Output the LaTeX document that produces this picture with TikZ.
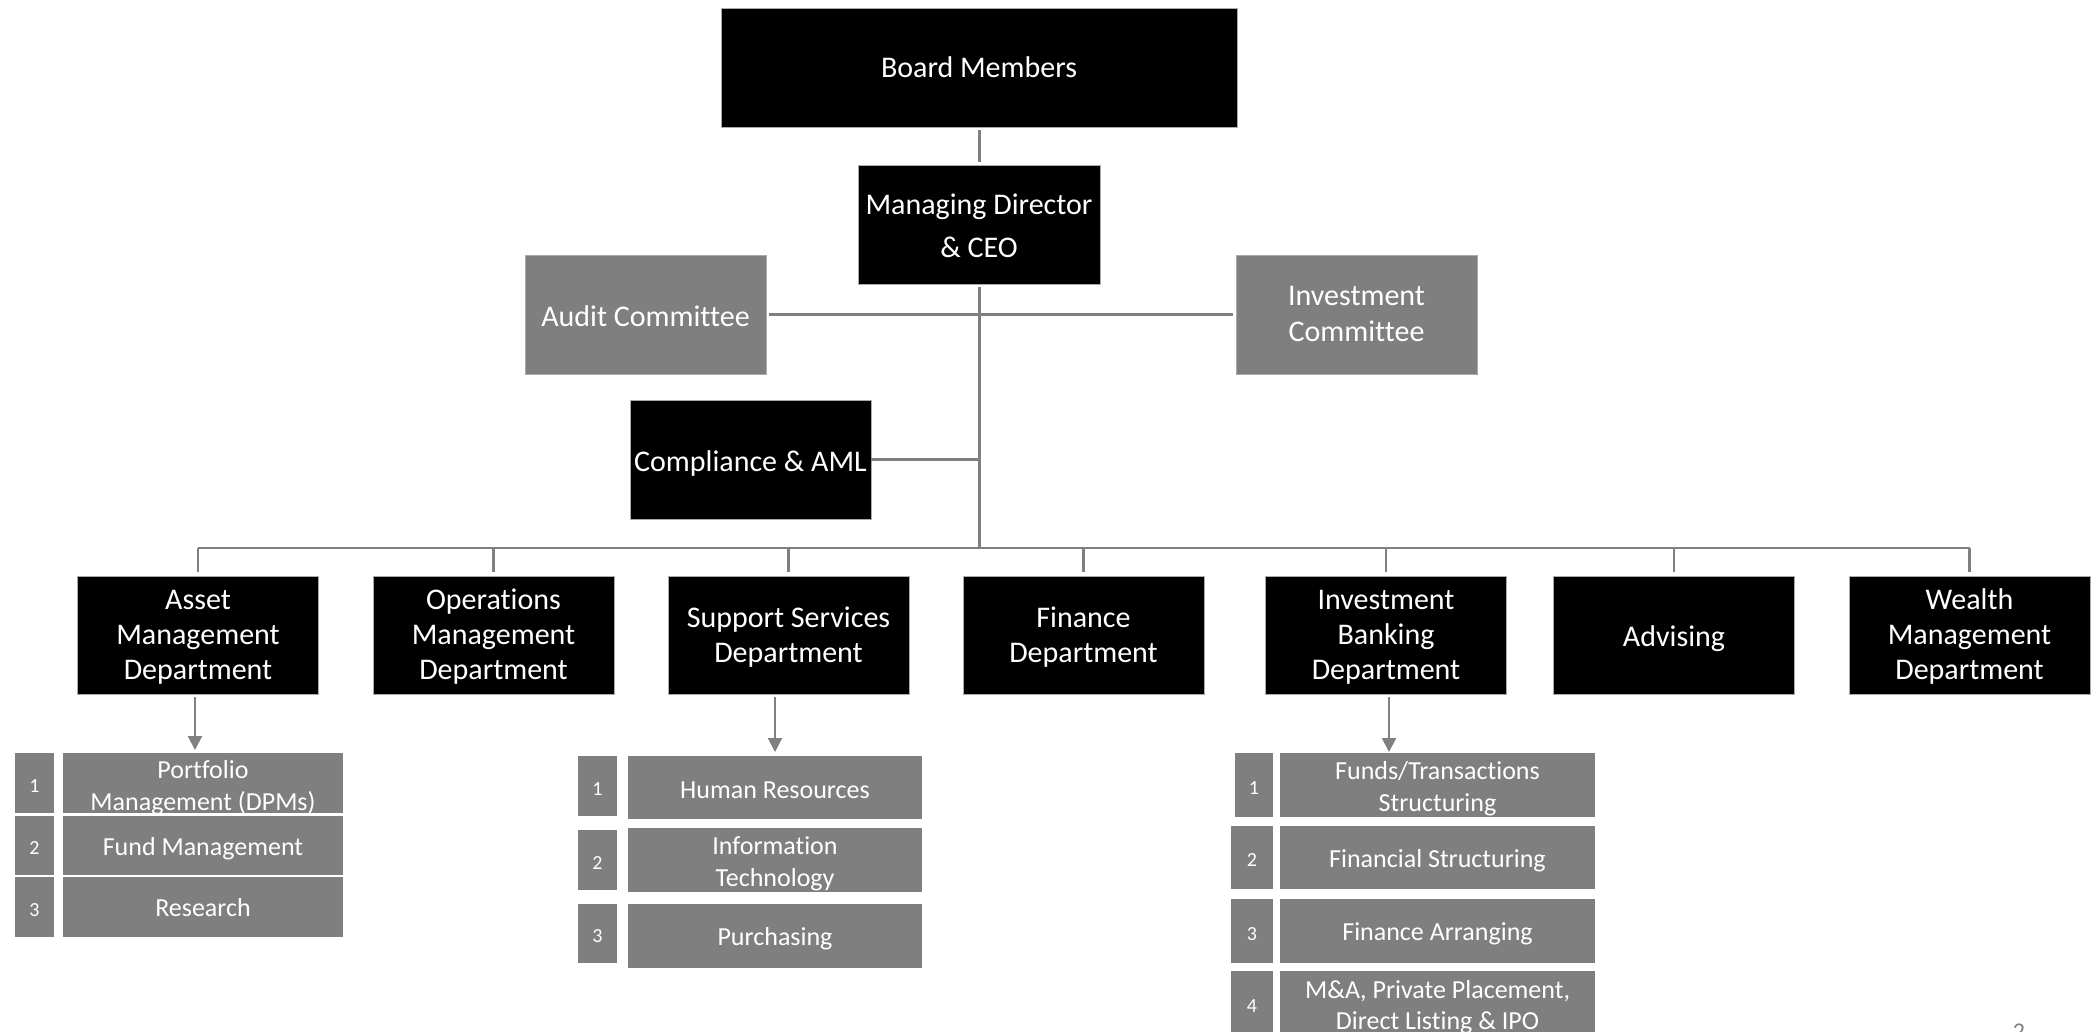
\documentclass[tikz,border=0pt]{standalone}
\usepackage{fontspec}
\setmainfont{Carlito}[Ligatures=NoCommon]
\usetikzlibrary{arrows.meta}
\definecolor{gfill}{RGB}{127,127,127}
\definecolor{gline}{RGB}{128,128,128}
\definecolor{gedge}{RGB}{170,170,170}
% strut centred on the cap height; #1 = extra height on top, #2 = extra depth below
\newcommand\sS[2]{\rule[\dimexpr-0.21em-#2\relax]{0pt}{\dimexpr1.05em+#1+#2\relax}}
\newcommand\fst{\sS{0pt}{0pt}}
\tikzset{
  box/.style={inner sep=0pt, outer sep=0pt, text=white, align=center, draw=gedge, line width=0.8pt},
  blk/.style={box, fill=black, font=\fontsize{30}{36}\selectfont},
  gry/.style={box, fill=gfill, font=\fontsize{30}{36}\selectfont},
  dept/.style={blk, minimum width=241, minimum height=118, font=\fontsize{30}{35}\selectfont},
  sublab/.style={inner sep=0pt, outer sep=0pt, fill=gfill, text=white, align=center, anchor=north west, font=\fontsize{26}{31}\selectfont},
  subtxt/.style={inner sep=0pt, outer sep=0pt, text=white, align=center, font=\fontsize{26}{32}\selectfont},
  subnum/.style={inner sep=0pt, outer sep=0pt, fill=gfill, text=white, anchor=north west, font=\fontsize{20}{24}\selectfont},
  conn/.style={draw=gline, line width=3pt},
  arr/.style={draw=gline, line width=2pt, -{Triangle[length=14pt,width=14pt]}},
}
\begin{document}
\begin{tikzpicture}[x=1pt, y=-1pt]
\useasboundingbox (0,0) rectangle (2095,1031);
\clip (0,0) rectangle (2095,1031);

% top level
\node[blk, minimum width=516, minimum height=119] (board) at (979,67.5) {Board Members};
\node[blk, minimum width=242, minimum height=119, font=\fontsize{30}{43}\selectfont] (md) at (979,224.5) {\sS{4pt}{0pt}Managing Director\\\& CEO\fst};
\node[gry, minimum width=241, minimum height=119] (audit) at (645.5,314.5) {\sS{5pt}{0pt}Audit Committee};
\node[gry, minimum width=241, minimum height=119] (ic) at (1356.5,314.5) {\fst Investment\\Committee\fst};
\node[blk, minimum width=241, minimum height=119] (comp) at (750.5,459.5) {\sS{5pt}{0pt}Compliance \& AML};

% departments
\node[dept] (asset) at (198,635) {\sS{1pt}{0pt}Asset\\Management\\Department\fst};
\node[dept] (ops) at (493.5,635) {\sS{1pt}{0pt}Operations\\Management\\Department\fst};
\node[dept] (supp) at (788.5,635) {\sS{2pt}{0pt}Support Services\\Department\fst};
\node[dept] (fin) at (1083.5,635) {\sS{2pt}{0pt}Finance\\Department\fst};
\node[dept] (ib) at (1386,635) {\sS{1pt}{0pt}Investment\\Banking\\Department\fst};
\node[dept] (adv) at (1674,635) {\sS{5pt}{0pt}Advising};
\node[dept] (wealth) at (1969.5,635) {\sS{1pt}{0pt}Wealth\\Management\\Department\fst};

% bus
\coordinate (busL) at (198,548);
\coordinate (busR) at (1969.5,548);

% connectors
\draw[conn, shorten <=3pt, shorten >=3pt] (board.south) -- (md.north);
\draw[conn, shorten <=3pt] (md.south) -- (md.south |- busL);
\draw[conn, shorten <=3pt, shorten >=3pt] (audit.east) -- (ic.west);
\draw[conn] (comp.east) -- (comp.east -| md.south);
\draw[conn, line width=2.5pt] (busL) -- (busR);
\foreach \d in {asset,ops,supp,fin,ib,adv,wealth}{
  \draw[conn, line width=2.5pt] (\d.north |- busL) -- ([yshift=4pt]\d.north);
}

% asset management sub-list
\node[subnum, minimum width=39, minimum height=60] (an1) at (15,753) {\sS{6pt}{0pt}1};
\node[sublab, minimum width=280, minimum height=60] (al1) at (63,753) {};
\node[subtxt] (al1t) at ([yshift=-3.5pt]al1.center) {\fst Portfolio\\Management (DPMs)\fst};
\node[subnum, minimum width=39, minimum height=59] (an2) at (15,816) {\sS{6pt}{0pt}2};
\node[sublab, minimum width=280, minimum height=59] (al2) at (63,816) {\sS{4pt}{0pt}Fund Management};
\node[subnum, minimum width=39, minimum height=60] (an3) at (15,877) {\sS{6pt}{0pt}3};
\node[sublab, minimum width=280, minimum height=60] (al3) at (63,877) {\sS{3pt}{0pt}Research};

% support services sub-list
\node[subnum, minimum width=39, minimum height=60] (sn1) at (578,756) {\sS{6pt}{0pt}1};
\node[sublab, minimum width=294, minimum height=63] (sl1) at (628,756) {\sS{5pt}{0pt}Human Resources};
\node[subnum, minimum width=39, minimum height=60] (sn2) at (578,830) {\sS{6pt}{0pt}2};
\node[sublab, minimum width=294, minimum height=64] (sl2) at (628,828) {};
\node[subtxt] (sl2t) at ([yshift=-2pt]sl2.center) {\fst Information\\Technology\fst};
\node[subnum, minimum width=39, minimum height=59] (sn3) at (578,904) {\sS{6pt}{0pt}3};
\node[sublab, minimum width=294, minimum height=64] (sl3) at (628,904) {\sS{2pt}{0pt}Purchasing};

% investment banking sub-list
\node[subnum, minimum width=38, minimum height=64] (in1) at (1235,753) {\sS{6pt}{0pt}1};
\node[sublab, minimum width=315, minimum height=64] (il1) at (1280,753) {};
\node[subtxt] (il1t) at ([yshift=-2pt]il1.center) {\fst Funds/Transactions\\Structuring\fst};
\node[subnum, minimum width=42, minimum height=63] (in2) at (1231,826) {\sS{6pt}{0pt}2};
\node[sublab, minimum width=315, minimum height=63] (il2) at (1280,826) {\sS{4pt}{0pt}Financial Structuring};
\node[subnum, minimum width=42, minimum height=64] (in3) at (1231,899) {\sS{6pt}{0pt}3};
\node[sublab, minimum width=315, minimum height=64] (il3) at (1280,899) {\sS{2pt}{0pt}Finance Arranging};
\node[subnum, minimum width=42, minimum height=64] (in4) at (1231,971) {\sS{6pt}{0pt}4};
\node[sublab, minimum width=315, minimum height=64] (il4) at (1280,971) {};
\node[subtxt, font=\fontsize{26}{31}\selectfont] (il4t) at ([yshift=-3pt]il4.center) {\fst M\&A, Private Placement,\\Direct Listing \& IPO\fst};

% arrows to sub-lists
\coordinate (aa) at (195,694);
\coordinate (sa) at (775,694);
\coordinate (ia) at (1389,694);
\draw[arr, shorten <=3pt, shorten >=3pt] (aa) -- (aa |- al1.north);
\draw[arr, shorten <=3pt, shorten >=4pt] (sa) -- (sa |- sl1.north);
\draw[arr, shorten <=3pt, shorten >=1pt] (ia) -- (ia |- il1.north);

% page number (cut off)
\node[anchor=base, inner sep=0pt, text=gline, font=\fontsize{24}{28}\selectfont] (pg) at (2019,1039) {2};
\end{tikzpicture}
\end{document}
